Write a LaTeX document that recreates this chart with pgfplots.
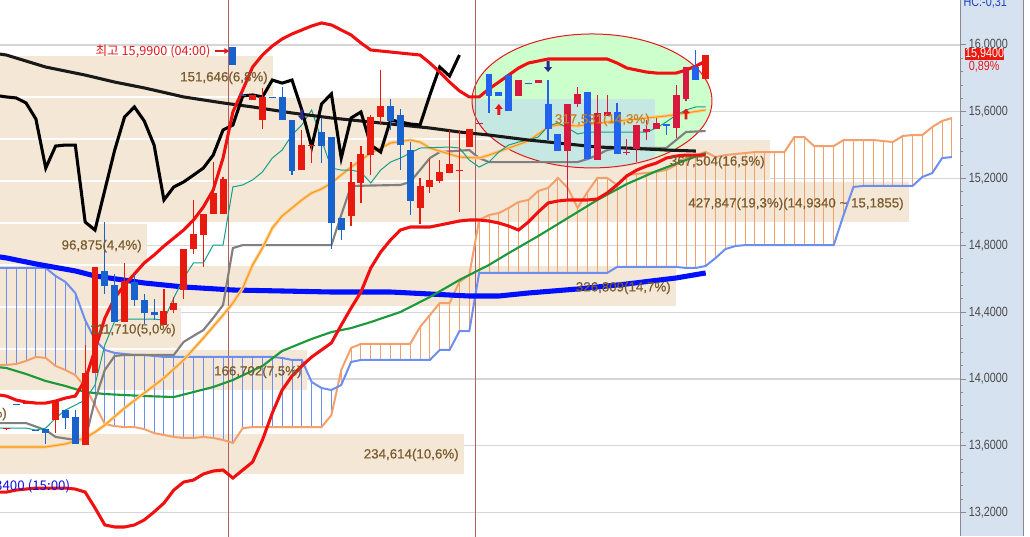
\documentclass[border=0pt]{standalone}
\usepackage{fontspec}
\setmainfont{Liberation Sans}
\newfontfamily\kr{Noto Sans CJK KR}
\newfontfamily\tickfont[FakeStretch=0.81]{Liberation Sans}
\newfontfamily\labfont[FakeBold=0.5]{Liberation Sans}
\usepackage{pgfplots}
\usepackage{pgfplotstable}
\pgfplotsset{compat=1.18}
\usetikzlibrary{arrows.meta}

\definecolor{beige}{HTML}{F5E7D5}
\definecolor{ellgreen}{HTML}{CCFFCC}
\definecolor{ellcyan}{HTML}{C6E8E2}
\definecolor{gridgray}{HTML}{D6D6D6}
\definecolor{axisgray}{HTML}{8A8A8A}
\definecolor{labgray}{HTML}{4A4A4A}
\definecolor{panel}{HTML}{D6E2EF}
\definecolor{sepcol}{HTML}{B06060}
\definecolor{brownlab}{HTML}{7A5C2E}
\definecolor{goldlab}{HTML}{C08425}
\definecolor{upred}{HTML}{E8190F}
\definecolor{dnblue}{HTML}{1762CC}
\definecolor{upcrim}{HTML}{D8183E}
\definecolor{dnroyal}{HTML}{2262EE}
\definecolor{spanA}{HTML}{F4A06A}
\definecolor{spanB}{HTML}{6C8EF0}
\definecolor{bbred}{HTML}{F01010}
\definecolor{magreen}{HTML}{1A9A3A}
\definecolor{mablue}{HTML}{0010FF}
\definecolor{tenkan}{HTML}{12A08A}
\definecolor{kijun}{HTML}{808080}
\definecolor{peach}{HTML}{FFC89B}
\definecolor{orangema}{HTML}{F5A000}
\definecolor{hired}{HTML}{E41818}
\definecolor{lowblue}{HTML}{1010E0}
\definecolor{navyarr}{HTML}{2A2A90}
\definecolor{hcblue}{HTML}{2040C0}

\pgfdeclareplotmark{uparr}{%
 \pgfpathmoveto{\pgfqpoint{0pt}{4.1pt}}%
 \pgfpathlineto{\pgfqpoint{3pt}{0.4pt}}%
 \pgfpathlineto{\pgfqpoint{1.1pt}{0.4pt}}%
 \pgfpathlineto{\pgfqpoint{1.1pt}{-4.1pt}}%
 \pgfpathlineto{\pgfqpoint{-1.1pt}{-4.1pt}}%
 \pgfpathlineto{\pgfqpoint{-1.1pt}{0.4pt}}%
 \pgfpathlineto{\pgfqpoint{-3pt}{0.4pt}}%
 \pgfpathclose\pgfusepathqfill}
\pgfdeclareplotmark{dnarr}{%
 \pgfpathmoveto{\pgfqpoint{0pt}{-4.1pt}}%
 \pgfpathlineto{\pgfqpoint{3pt}{-0.4pt}}%
 \pgfpathlineto{\pgfqpoint{1.1pt}{-0.4pt}}%
 \pgfpathlineto{\pgfqpoint{1.1pt}{4.1pt}}%
 \pgfpathlineto{\pgfqpoint{-1.1pt}{4.1pt}}%
 \pgfpathlineto{\pgfqpoint{-1.1pt}{-0.4pt}}%
 \pgfpathlineto{\pgfqpoint{-3pt}{-0.4pt}}%
 \pgfpathclose\pgfusepathqfill}

% ---------------- candles: i open high low close ----------------
\pgfplotstableread{
i o h l c
0 13.698 13.703 13.698 13.703
2 13.850 13.862 13.850 13.862
5 13.754 13.862 13.676 13.862
8 13.605 14.204 13.605 14.036
9 14.036 14.671 14.036 14.671
12 14.341 14.695 14.341 14.587
16 14.323 14.539 14.323 14.407
17 14.413 14.491 14.395 14.455
18 14.533 14.778 14.479 14.778
19 14.778 15.072 14.748 14.868
20 14.862 14.988 14.671 14.988
21 14.988 15.299 14.988 15.114
22 14.988 15.210 14.988 15.198
25 15.671 15.701 15.671 15.701
26 15.551 15.743 15.497 15.689
30 15.251 15.491 15.251 15.401
31 15.395 15.401 15.293 15.401
35 14.976 15.299 14.916 15.180
36 15.174 15.395 15.054 15.347
37 15.341 15.581 15.221 15.569
38 15.569 15.850 15.521 15.635
42 15.024 15.204 14.928 15.156
43 15.150 15.317 15.114 15.192
44 15.186 15.311 15.174 15.239
45 15.233 15.491 15.233 15.287
46 15.248 15.491 15.000 15.254
47 15.389 15.497 15.389 15.497
71 15.796 15.940 15.796 15.940
}\upout
\pgfplotstableread{
i o h l c
1 13.850 13.850 13.844 13.844
3 13.697 13.697 13.691 13.691
4 13.700 13.700 13.611 13.676
6 13.814 13.814 13.700 13.766
7 13.772 13.814 13.611 13.611
10 14.647 14.940 14.509 14.557
11 14.563 14.629 14.341 14.341
13 14.581 14.629 14.437 14.473
14 14.473 14.509 14.329 14.395
15 14.401 14.479 14.353 14.383
23 15.988 15.990 15.880 15.880
24 15.701 15.701 15.695 15.695
27 15.686 15.686 15.680 15.680
28 15.689 15.749 15.551 15.551
29 15.551 15.551 15.221 15.245
32 15.479 15.563 15.293 15.395
33 15.449 15.449 14.780 14.934
34 14.964 14.964 14.832 14.892
39 15.635 15.677 15.491 15.545
40 15.581 15.617 15.251 15.401
41 15.371 15.419 14.982 15.066
}\dnout
\pgfplotstableread{
i o h l c
48 15.525 15.529 15.525 15.529
52 15.695 15.790 15.695 15.790
54 15.772 15.790 15.772 15.790
57 15.365 15.647 15.072 15.647
58 15.647 15.749 15.629 15.707
60 15.311 15.701 15.311 15.593
61 15.575 15.701 15.575 15.599
63 15.356 15.437 15.341 15.359
64 15.377 15.521 15.299 15.521
65 15.479 15.551 15.431 15.497
66 15.497 15.563 15.497 15.533
68 15.503 15.761 15.443 15.701
69 15.677 15.868 15.665 15.868
}\upin
\pgfplotstableread{
i o h l c
49 15.826 15.826 15.593 15.695
50 15.719 15.719 15.695 15.695
51 15.820 15.820 15.605 15.605
53 15.770 15.770 15.764 15.764
55 15.647 15.790 15.431 15.497
56 15.467 15.467 15.365 15.365
59 15.719 15.719 15.317 15.317
62 15.599 15.653 15.347 15.347
67 15.527 15.527 15.461 15.515
70 15.868 15.970 15.790 15.790
}\dnin

% ---------------- ichimoku cloud: leading span A (a), span B (b) ----------------
\pgfplotstableread{
i a b
-0.7 14.084 14.665
0 14.084 14.665
1 14.090 14.665
2 14.108 14.665
3 14.132 14.665
4 14.126 14.665
5 14.078 14.617
6 14.054 14.581
7 14.024 14.515
8 13.952 14.353
9 13.844 14.233
10 13.730 14.174
11 13.718 14.156
12 13.712 14.150
13 13.712 14.144
14 13.700 14.144
15 13.676 14.138
16 13.665 14.132
17 13.653 14.132
18 13.647 14.132
19 13.647 14.132
20 13.653 14.132
21 13.647 14.132
22 13.635 14.132
23 13.617 14.132
24 13.706 14.132
25 13.712 14.132
26 13.712 14.132
27 13.712 14.132
28 13.712 14.126
29 13.712 14.114
30 13.712 14.114
31 13.712 13.982
32 13.712 13.946
33 13.784 13.934
34 14.054 13.964
35 14.186 14.102
36 14.210 14.114
37 14.210 14.114
38 14.210 14.114
39 14.210 14.114
40 14.210 14.114
41 14.210 14.114
42 14.311 14.114
43 14.383 14.114
44 14.455 14.174
45 14.455 14.174
46 14.581 14.287
47 14.623 14.287
48 14.952 14.635
49 14.982 14.635
50 14.994 14.635
51 15.024 14.635
52 15.060 14.635
53 15.072 14.635
54 15.126 14.635
55 15.144 14.635
56 15.204 14.635
57 15.144 14.635
58 15.024 14.635
59 15.120 14.635
60 15.204 14.635
61 15.204 14.635
62 15.162 14.671
63 15.222 14.671
64 15.228 14.671
65 15.234 14.671
66 15.240 14.671
67 15.252 14.671
68 15.282 14.671
69 15.323 14.665
70 15.341 14.665
71 15.359 14.677
72 15.329 14.724
73 15.341 14.778
74 15.347 14.796
75 15.353 14.802
76 15.359 14.802
77 15.359 14.802
78 15.359 14.802
79 15.359 14.802
80 15.449 14.802
81 15.449 14.802
82 15.395 14.802
83 15.395 14.802
84 15.395 14.802
85 15.431 14.982
86 15.431 15.150
87 15.431 15.156
88 15.431 15.156
89 15.425 15.156
90 15.419 15.156
91 15.455 15.156
92 15.461 15.156
93 15.461 15.210
94 15.509 15.233
95 15.545 15.323
96 15.563 15.329
}\cloud

% ---------------- Bollinger bands: upper (u), lower (l) ----------------
\pgfplotstableread{
i u l
-0.7 13.904 13.323
0 13.898 13.323
1 13.874 13.335
2 13.862 13.341
3 13.856 13.347
4 13.856 13.347
5 13.868 13.347
6 13.886 13.347
7 13.898 13.341
8 13.994 13.323
9 14.174 13.228
10 14.365 13.126
11 14.485 13.114
12 14.563 13.114
13 14.629 13.126
14 14.695 13.156
15 14.742 13.204
16 14.796 13.257
17 14.844 13.335
18 14.892 13.383
19 14.952 13.395
20 15.030 13.431
21 15.132 13.449
22 15.323 13.455
23 15.599 13.407
24 15.731 13.455
25 15.868 13.503
26 15.940 13.635
27 15.994 13.796
28 16.036 13.934
29 16.066 14.018
30 16.090 14.078
31 16.114 14.132
32 16.132 14.174
33 16.120 14.216
34 16.090 14.323
35 16.060 14.425
36 16.012 14.521
37 15.970 14.665
38 15.964 14.760
39 15.958 14.832
40 15.952 14.892
41 15.946 14.910
42 15.940 14.910
43 15.892 14.910
44 15.838 14.922
45 15.778 14.934
46 15.725 14.946
47 15.689 14.952
48 15.689 14.952
49 15.737 14.946
50 15.778 14.934
51 15.820 14.916
52 15.862 14.892
53 15.892 14.940
54 15.904 15.000
55 15.916 15.054
56 15.916 15.066
57 15.916 15.072
58 15.916 15.072
59 15.916 15.072
60 15.916 15.078
61 15.916 15.114
62 15.892 15.162
63 15.862 15.216
64 15.850 15.251
65 15.838 15.275
66 15.832 15.293
67 15.832 15.323
68 15.832 15.335
69 15.850 15.341
70 15.874 15.341
71 15.904 15.341
}\boll

\pgfplotstableread{
i v
-0.7 14.070
0 14.066
2 14.030
4 13.988
6 13.958
8 13.922
10 13.910
14 13.898
17 13.892
19 13.922
21 13.952
23 13.994
26 14.078
28 14.168
31 14.240
33 14.281
35 14.305
37 14.341
40 14.401
43 14.491
46 14.593
49 14.683
51 14.754
54 14.856
57 14.964
60 15.072
63 15.168
66 15.245
69 15.311
71 15.353
}\greenma

\pgfplotstableread{
i v
-0.7 14.731
0 14.725
3 14.689
7 14.647
9 14.617
14 14.575
18 14.551
23 14.533
28 14.527
33 14.521
39 14.521
43 14.509
47 14.497
50 14.497
53 14.515
58 14.539
63 14.569
68 14.605
71 14.635
}\bluema

\pgfplotstableread{
i v
-0.7 15.946
0 15.940
2 15.904
4 15.868
8 15.820
11 15.778
14 15.743
18 15.689
22 15.653
25 15.629
29 15.593
33 15.563
39 15.527
43 15.503
46 15.479
49 15.461
53 15.431
56 15.413
60 15.389
63 15.383
67 15.371
70 15.365
}\longma

\pgfplotstableread{
i v
-0.7 15.695
0 15.689
1 15.683
2 15.653
3 15.557
4 15.263
5 15.395
6 15.401
7 15.401
8 14.940
9 14.892
10 15.132
11 15.371
12 15.569
13 15.629
14 15.545
15 15.401
16 15.072
17 15.150
18 15.180
19 15.221
20 15.263
21 15.341
22 15.491
23 15.521
24 15.695
25 15.701
26 15.689
27 15.790
28 15.772
29 15.790
30 15.611
31 15.389
32 15.647
33 15.707
34 15.323
35 15.563
36 15.599
37 15.401
38 15.359
39 15.551
40 15.539
41 15.527
42 15.521
43 15.701
44 15.868
45 15.814
46 15.940
}\chikou

\pgfplotstableread{
i v
-0.7 13.736
0 13.736
2 13.736
4 13.694
5 13.653
7 13.635
8 13.635
9 13.874
10 14.054
11 14.138
12 14.144
17 14.144
18 14.222
19 14.258
20 14.293
21 14.365
22 14.443
23 14.784
24 14.802
33 14.802
34 14.982
35 15.156
40 15.162
41 15.180
42 15.251
43 15.323
44 15.359
47 15.371
48 15.323
49 15.299
58 15.299
59 15.317
60 15.341
61 15.371
62 15.383
67 15.383
68 15.431
69 15.479
71 15.485
}\kijun

\pgfplotstableread{
i v
-0.7 13.706
0 13.706
2 13.706
3 13.694
4 13.706
5 13.766
6 13.814
7 13.844
8 13.874
9 13.964
10 14.204
11 14.347
12 14.359
15 14.359
16 14.353
17 14.485
18 14.605
19 14.695
20 14.695
21 14.802
22 14.802
23 15.150
24 15.162
25 15.192
26 15.240
27 15.323
28 15.371
29 15.461
30 15.521
31 15.611
32 15.431
33 15.263
34 15.251
35 15.251
36 15.239
37 15.174
38 15.251
39 15.299
40 15.323
41 15.353
42 15.383
45 15.389
46 15.383
47 15.311
48 15.269
49 15.299
50 15.359
51 15.401
52 15.419
53 15.431
54 15.449
55 15.515
56 15.533
57 15.503
58 15.467
59 15.479
65 15.479
66 15.503
67 15.539
68 15.581
69 15.611
70 15.629
71 15.629
}\tenkan

\pgfplotstableread{
i v
-0.7 13.593
0 13.593
4 13.593
6 13.611
8 13.647
9 13.682
10 13.724
12 13.826
14 13.916
16 14.006
18 14.114
20 14.245
22 14.383
23 14.455
24 14.545
25 14.683
26 14.784
27 14.904
28 14.976
29 15.024
30 15.072
31 15.114
32 15.138
33 15.174
35 15.269
37 15.353
39 15.413
41 15.431
42 15.419
43 15.383
45 15.347
46 15.329
48 15.323
49 15.341
51 15.383
53 15.425
54 15.467
55 15.509
56 15.521
58 15.515
61 15.539
64 15.557
67 15.575
69 15.593
71 15.611
}\peachma

\newcommand{\candles}[3]{%
 \addplot[draw=none, mark=none, error bars/.cd, y dir=plus, y explicit, error mark=none,
   error bar style={draw=#3, solid, line width=0.9pt}]
   table[x=i, y=l, y error plus expr={\thisrow{h}-\thisrow{l}}] {#1};
 \addplot[draw=none, mark=none, error bars/.cd, y dir=plus, y explicit, error mark=none,
   error bar style={draw=#2, solid, line width=5.2pt}]
   table[x=i, y expr={min(\thisrow{o},\thisrow{c})}, y error plus expr={max(abs(\thisrow{c}-\thisrow{o}),0.006)}] {#1};
}

\begin{document}
\begin{tikzpicture}
\fill[panel] (720pt,0pt) rectangle (767.25pt,402pt);
\draw[axisgray, line width=0.75pt] (767.25pt,0pt) -- (767.25pt,402pt);
\begin{axis}[
  scale only axis, width=720pt, height=402pt,
  xmin=-0.645, xmax=96.82, ymin=13.0599, ymax=16.2695,
  axis x line=none, axis y line*=right,
  ytick={13.2,13.6,14.0,14.4,14.8,15.2,15.6,16.0},
  minor y tick num=4,
  ymajorgrids, grid style={draw=gridgray, line width=0.8pt},
  tick align=outside, major tick length=4.5pt, minor tick length=2.2pt,
  every tick/.style={draw=axisgray, line width=0.75pt},
  axis line style={draw=axisgray, line width=0.75pt},
  yticklabel style={font=\tickfont\fontsize{10}{10}\selectfont, text=labgray, anchor=west, inner sep=0pt, xshift=2pt,
    /pgf/number format/fixed, /pgf/number format/fixed zerofill, /pgf/number format/precision=4,
    /pgf/number format/use comma, /pgf/number format/assume math mode=true},
  clip=true,
]
% volume-by-price bands
\addplot[fill=beige, draw=none] coordinates {(-1,15.6945)(27.07,15.6945)(27.07,15.934)(-1,15.934)} -- cycle;
\addplot[fill=beige, draw=none] coordinates {(-1,15.443)(65.85,15.443)(65.85,15.6825)(-1,15.6825)} -- cycle;
\addplot[fill=beige, draw=none] coordinates {(-1,15.1915)(77.53,15.1915)(77.53,15.431)(-1,15.431)} -- cycle;
\addplot[fill=beige, draw=none] coordinates {(-1,14.940)(91.64,14.940)(91.64,15.1795)(-1,15.1795)} -- cycle;
\addplot[fill=beige, draw=none] coordinates {(-1,14.6885)(14.28,14.6885)(14.28,14.928)(-1,14.928)} -- cycle;
\addplot[fill=beige, draw=none] coordinates {(-1,14.437)(67.98,14.437)(67.98,14.6765)(-1,14.6765)} -- cycle;
\addplot[fill=beige, draw=none] coordinates {(-1,14.1855)(17.73,14.1855)(17.73,14.425)(-1,14.425)} -- cycle;
\addplot[fill=beige, draw=none] coordinates {(-1,13.934)(30.52,13.934)(30.52,14.1735)(-1,14.1735)} -- cycle;
\addplot[fill=beige, draw=none] coordinates {(-1,13.431)(46.46,13.431)(46.46,13.6705)(-1,13.6705)} -- cycle;

% highlight ellipse
\fill[ellgreen] (axis cs:59.46,15.665) ellipse [x radius=12.18, y radius=0.401];
\begin{scope}
\clip (axis cs:59.46,15.665) ellipse [x radius=12.18, y radius=0.401];
\fill[ellcyan] (axis cs:45,15.677) rectangle (axis cs:65.85,15.0);
\end{scope}
\draw[hired, line width=0.75pt] (axis cs:59.46,15.665) ellipse [x radius=12.18, y radius=0.401];

% session separators
\addplot[sepcol, line width=0.75pt] coordinates {(22.55,13.0)(22.55,16.3)};
\addplot[sepcol, line width=0.75pt] coordinates {(47.62,13.0)(47.62,16.3)};

% cloud hatching and spans
\addplot[draw=none, mark=none, error bars/.cd, y dir=plus, y explicit, error mark=none,
  error bar style={draw=spanB, solid, line width=0.7pt}]
  table[x=i, y=a, y error plus expr={max(\thisrow{b}-\thisrow{a},0)}] {\cloud};
\addplot[draw=none, mark=none, error bars/.cd, y dir=plus, y explicit, error mark=none,
  error bar style={draw=spanA, solid, line width=0.7pt}]
  table[x=i, y=b, y error plus expr={max(\thisrow{a}-\thisrow{b},0)}] {\cloud};
\addplot[spanA, line width=1.5pt] table[x=i, y=a] {\cloud};
\addplot[spanB, line width=1.5pt] table[x=i, y=b] {\cloud};

% moving averages and lines
\addplot[mablue, line width=3.8pt] table[x=i, y=v] {\bluema};
\addplot[magreen, line width=1.6pt] table[x=i, y=v] {\greenma};
\addplot[kijun, line width=1.6pt] table[x=i, y=v] {\kijun};
\addplot[peach, line width=2.4pt] table[x=i, y=v] {\peachma};
\addplot[orangema, line width=0.8pt] table[x=i, y=v] {\peachma};
\addplot[tenkan, line width=0.75pt] table[x=i, y=v] {\tenkan};
\addplot[black!90, line width=2.3pt] table[x=i, y=v] {\longma};
\addplot[black, line width=2.3pt] table[x=i, y=v] {\chikou};
\addplot[bbred, line width=2.3pt] table[x=i, y=u] {\boll};
\addplot[bbred, line width=2.3pt] table[x=i, y=l] {\boll};

% candles
\candles{\upout}{upred}{upred}
\candles{\dnout}{dnblue}{dnblue}
\candles{\upin}{upcrim}{upcrim}
\candles{\dnin}{dnroyal}{dnroyal}

% signal arrows
\addplot[only marks, mark=uparr, hired] coordinates {(50,15.614)(69,15.587)};
\addplot[only marks, mark=dnarr, navyarr] coordinates {(55,15.871)(30,15.581)};

% high / low marks
\addplot[hired, line width=0.9pt, -{Latex[length=4.5pt,width=4.5pt]}] coordinates {(21.2,15.964)(22.75,15.964)};
\node[anchor=east, text=hired, font=\kr\fontsize{9.5}{10}\selectfont, inner sep=0pt] at (axis cs:20.75,15.964) {최고 15,9900 (04:00)};
\node[anchor=east, text=lowblue, font=\kr\fontsize{10}{10}\selectfont, inner sep=0pt] at (axis cs:6.5,13.359) {최저 13,3400 (15:00)};

% band labels
\tikzset{blab/.style={anchor=east, text=brownlab, font=\labfont\fontsize{10}{10}\selectfont, inner sep=0pt}}
\node[blab] at (axis cs:26.56,15.803) {151,646(6,8\%)};
\node[blab, text=goldlab] at (axis cs:65.35,15.551) {317,531(14,3\%)};
\node[blab] at (axis cs:77.02,15.299) {367,504(16,5\%)};
\node[blab] at (axis cs:91.13,15.048) {427,847(19,3\%)(14,9340 \textasciitilde\ 15,1855)};
\node[blab] at (axis cs:13.77,14.796) {96,875(4,4\%)};
\node[blab] at (axis cs:67.48,14.545) {326,809(14,7\%)};
\node[blab] at (axis cs:17.22,14.293) {111,710(5,0\%)};
\node[blab] at (axis cs:30.0,14.042) {166,702(7,5\%)};
\node[blab] at (axis cs:0.07,13.790) {15,586(0,7\%)};
\node[blab] at (axis cs:45.95,13.545) {234,614(10,6\%)};
\end{axis}
% right price panel annotations
\node[anchor=base west, text=hcblue, font=\tickfont\fontsize{10}{10}\selectfont, inner sep=0pt] at (722.5pt,397.3pt) {HC:-0,31};
\fill[upred] (723.75pt,357pt) rectangle (753pt,366pt);
\node[text=white, font=\tickfont\fontsize{10}{10}\selectfont, inner sep=0pt] at (738.4pt,361.5pt) {15,9400};
\node[anchor=west, text=hired, font=\tickfont\fontsize{10}{10}\selectfont, inner sep=0pt] at (726.5pt,352.3pt) {0,89\%};
\pgfresetboundingbox
\path[use as bounding box] (0pt,0pt) rectangle (772.5pt,402pt);
\end{tikzpicture}
\end{document}
